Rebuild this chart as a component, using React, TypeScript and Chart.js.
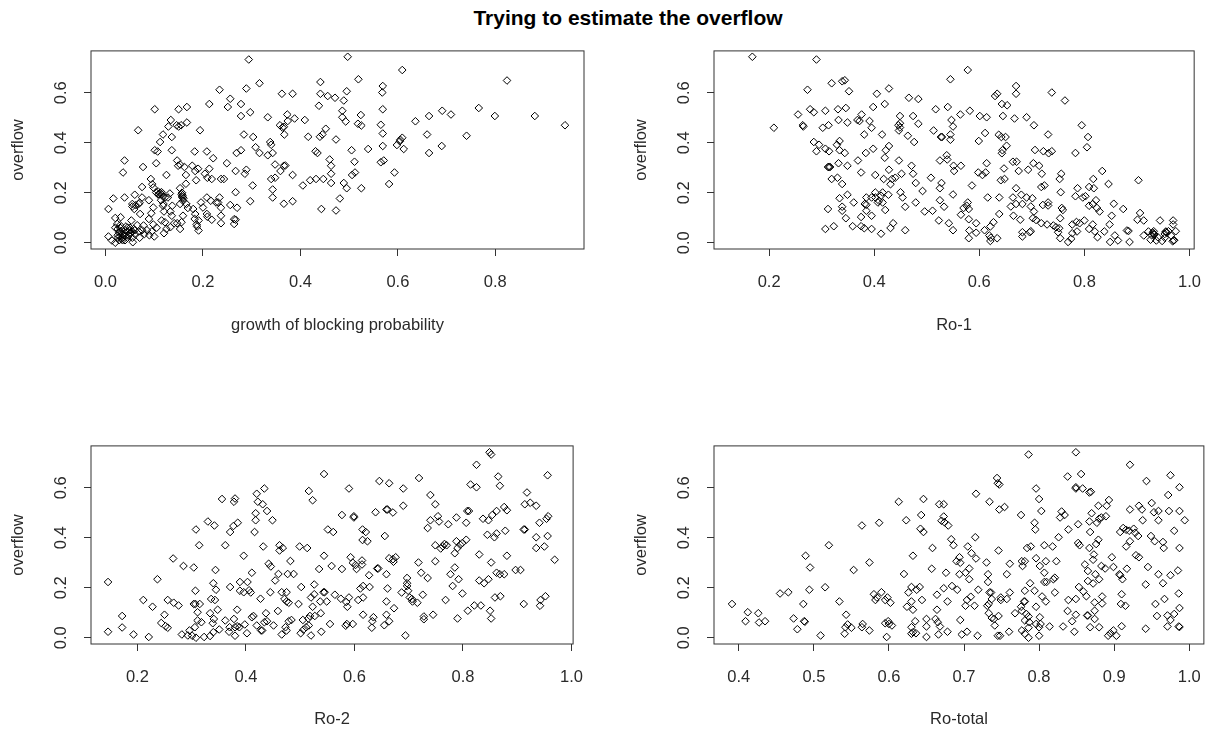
import React, { useEffect, useRef } from "react";
import { Chart, registerables } from "chart.js";

Chart.register(...registerables);

type Pt = [number, number];

const mainTitle = "Trying to estimate the overflow";
const yLabel = "overflow";
const overflowTicks = [0, 0.2, 0.4, 0.6];

const growthTicks = [0, 0.2, 0.4, 0.6, 0.8];
const ro1Ticks = [0.2, 0.4, 0.6, 0.8, 1.0];
const ro2Ticks = [0.2, 0.4, 0.6, 0.8, 1.0];
const roTotalTicks = [0.4, 0.5, 0.6, 0.7, 0.8, 0.9, 1.0];

const growthPoints: Pt[] = [
[.294,.733],[.497,.744],[.609,.691],[.519,.654],[.824,.649],[.316,.638],[.441,.643],[.234,.612],[.289,.617],[.362,.596],[.384,.596],[.441,.596],[.456,.587],[.471,.580],[.489,.569],[.495,.606],[.568,.601],[.569,.627],[.256,.576],[.251,.543],[.278,.555],[.213,.555],[.297,.522],[.278,.507],[.333,.502],[.373,.513],[.409,.491],[.388,.497],[.438,.548],[.486,.528],[.486,.502],[.493,.485],[.524,.511],[.569,.534],[.565,.472],[.518,.476],[.525,.469],[.636,.486],[.664,.507],[.691,.528],[.709,.513],[.766,.539],[.799,.507],[.881,.507],[.943,.470],[.741,.428],[.660,.433],[.690,.387],[.664,.359],[.612,.375],[.609,.420],[.605,.412],[.604,.406],[.598,.391],[.569,.437],[.569,.387],[.565,.322],[.571,.329],[.593,.281],[.582,.235],[.539,.375],[.505,.370],[.511,.324],[.512,.281],[.506,.271],[.525,.218],[.495,.218],[.489,.239],[.473,.413],[.452,.456],[.445,.433],[.440,.424],[.416,.424],[.358,.470],[.363,.461],[.366,.464],[.374,.487],[.367,.433],[.431,.366],[.435,.359],[.460,.333],[.463,.308],[.463,.276],[.463,.239],[.447,.255],[.432,.255],[.420,.250],[.405,.229],[.481,.177],[.443,.135],[.473,.129],[.384,.271],[.366,.308],[.369,.309],[.359,.287],[.348,.313],[.348,.260],[.340,.255],[.343,.213],[.343,.181],[.366,.156],[.384,.166],[.338,.403],[.340,.392],[.343,.359],[.333,.350],[.316,.359],[.308,.382],[.303,.423],[.284,.433],[.278,.370],[.269,.359],[.289,.292],[.286,.276],[.267,.287],[.302,.229],[.297,.166],[.267,.202],[.270,.140],[.256,.151],[.264,.094],[.267,.092],[.264,.075],[.237,.078],[.237,.108],[.237,.140],[.234,.181],[.231,.161],[.237,.255],[.243,.255],[.249,.318],[.221,.338],[.208,.365],[.183,.365],[.194,.450],[.167,.543],[.150,.534],[.101,.534],[.067,.450],[.134,.491],[.167,.481],[.129,.465],[.150,.465],[.146,.470],[.155,.470],[.118,.433],[.136,.423],[.112,.403],[.101,.370],[.107,.365],[.136,.370],[.039,.329],[.036,.281],[.077,.303],[.104,.318],[.125,.271],[.147,.329],[.153,.313],[.149,.308],[.162,.303],[.165,.271],[.165,.236],[.153,.218],[.178,.308],[.190,.296],[.184,.287],[.186,.250],[.204,.276],[.213,.296],[.209,.260],[.218,.255],[.093,.255],[.096,.234],[.098,.221],[.075,.223],[.104,.201],[.110,.194],[.115,.202],[.122,.181],[.132,.197],[.114,.170],[.128,.181],[.119,.155],[.118,.148],[.137,.148],[.120,.125],[.133,.125],[.136,.108],[.115,.089],[.122,.082],[.141,.078],[.147,.078],[.133,.062],[.153,.055],[.125,.055],[.120,.038],[.156,.194],[.158,.181],[.159,.168],[.153,.155],[.166,.155],[.169,.139],[.159,.108],[.156,.082],[.180,.135],[.184,.115],[.200,.141],[.183,.095],[.191,.089],[.196,.161],[.187,.073],[.188,.065],[.191,.049],[.208,.181],[.216,.168],[.227,.161],[.208,.115],[.209,.104],[.218,.092],[.016,.177],[.006,.135],[.039,.181],[.060,.192],[.075,.181],[.055,.155],[.059,.135],[.068,.155],[.089,.170],[.098,.141],[.094,.118],[.071,.115],[.089,.095],[.020,.099],[.031,.102],[.024,.075],[.053,.089],[.078,.069],[.098,.073],[.006,.025],[.013,.009],[.020,.0],[.056,.002],[.025,.055],[.028,.04],[.03,.025],[.033,.015],[.035,.05],[.038,.03],[.04,.01],[.042,.065],[.045,.045],[.048,.03],[.05,.06],[.052,.04],[.055,.02],[.058,.055],[.06,.035],[.065,.07],[.068,.045],[.07,.02],[.075,.05],[.08,.035],[.085,.05],[.09,.03],[.095,.045],[.10,.025],[.105,.06],[.02,.06],[.025,.03],[.03,.07],[.035,.01],[.04,.04],[.045,.02],[.05,.035],
[.108,.205],[.112,.2],[.108,.193],[.115,.193],[.118,.185],[.157,.2],[.158,.19],[.157,.185],[.16,.178],[.03,.06],[.035,.035],[.04,.05],[.045,.06],[.05,.05],[.03,.045],[.035,.02],[.04,.025],[.028,.01],[.025,.02],[.055,.045],[.06,.05],[.062,.15],[.055,.145],[.07,.16]
];

const ro1Points: Pt[] = [
[.168,.744],[.290,.733],[.578,.691],[.545,.654],[.670,.627],[.634,.596],[.630,.587],[.670,.596],[.738,.601],[.763,.569],[.273,.612],[.319,.638],[.339,.646],[.344,.650],[.352,.606],[.405,.596],[.428,.617],[.466,.580],[.484,.575],[.420,.555],[.398,.543],[.255,.513],[.278,.534],[.285,.522],[.307,.528],[.331,.534],[.346,.539],[.332,.491],[.349,.481],[.368,.491],[.372,.487],[.376,.513],[.391,.487],[.395,.460],[.209,.460],[.264,.470],[.265,.465],[.302,.460],[.313,.470],[.381,.433],[.415,.433],[.449,.507],[.449,.478],[.446,.470],[.449,.461],[.447,.449],[.474,.507],[.484,.476],[.464,.428],[.476,.403],[.517,.534],[.540,.543],[.564,.513],[.582,.528],[.601,.507],[.614,.502],[.547,.491],[.550,.465],[.513,.449],[.527,.423],[.529,.423],[.545,.433],[.545,.412],[.599,.407],[.611,.439],[.637,.432],[.642,.423],[.650,.423],[.643,.555],[.653,.550],[.645,.507],[.667,.497],[.690,.502],[.704,.470],[.731,.433],[.795,.470],[.807,.423],[.805,.382],[.783,.359],[.706,.371],[.722,.366],[.732,.358],[.738,.366],[.652,.388],[.644,.370],[.643,.358],[.285,.403],[.295,.392],[.290,.366],[.307,.376],[.314,.366],[.329,.392],[.334,.407],[.334,.370],[.344,.359],[.384,.359],[.398,.376],[.422,.370],[.428,.387],[.420,.340],[.369,.329],[.447,.329],[.332,.318],[.349,.308],[.312,.303],[.314,.303],[.316,.303],[.319,.255],[.330,.260],[.339,.235],[.375,.281],[.402,.271],[.418,.255],[.428,.292],[.431,.234],[.434,.255],[.440,.260],[.452,.276],[.471,.308],[.474,.276],[.479,.239],[.492,.207],[.508,.260],[.525,.329],[.528,.239],[.525,.218],[.538,.350],[.539,.333],[.551,.308],[.565,.308],[.552,.287],[.550,.193],[.586,.229],[.598,.281],[.606,.271],[.612,.281],[.614,.318],[.616,.181],[.638,.181],[.641,.250],[.648,.255],[.647,.297],[.664,.324],[.671,.324],[.675,.287],[.693,.292],[.703,.318],[.714,.308],[.719,.276],[.670,.218],[.718,.223],[.724,.229],[.756,.276],[.753,.255],[.755,.202],[.787,.218],[.783,.186],[.797,.181],[.802,.186],[.817,.255],[.809,.223],[.818,.218],[.834,.287],[.846,.235],[.903,.250],[.822,.170],[.809,.148],[.816,.155],[.824,.139],[.829,.125],[.856,.156],[.874,.135],[.906,.119],[.852,.108],[.901,.092],[.913,.089],[.944,.089],[.969,.089],[.969,.073],[.848,.073],[.838,.045],[.858,.029],[.825,.022],[.816,.073],[.809,.055],[.820,.045],[.800,.089],[.791,.078],[.785,.083],[.786,.045],[.777,.073],[.777,.038],[.775,.016],[.769,.003],[.849,.003],[.864,.009],[.886,.003],[.881,.049],[.884,.047],[.913,.029],[.922,.045],[.932,.046],[.933,.032],[.926,.012],[.937,.009],[.940,.022],[.948,.007],[.953,.02],[.955,.042],[.960,.046],[.974,.046],[.970,.009],[.965,.029],[.931,.038],[.334,.178],[.349,.192],[.312,.135],[.339,.144],[.339,.128],[.346,.098],[.307,.055],[.323,.066],[.359,.066],[.361,.161],[.375,.066],[.381,.058],[.375,.103],[.382,.155],[.385,.152],[.385,.181],[.395,.181],[.402,.201],[.385,.128],[.395,.108],[.395,.055],[.413,.036],[.431,.059],[.436,.078],[.459,.050],[.402,.181],[.409,.168],[.413,.188],[.416,.201],[.407,.161],[.416,.161],[.421,.131],[.427,.192],[.450,.202],[.454,.181],[.459,.144],[.479,.161],[.496,.125],[.511,.128],[.525,.170],[.533,.144],[.523,.089],[.542,.078],[.550,.050],[.565,.112],[.570,.139],[.576,.148],[.578,.161],[.580,.135],[.580,.094],[.581,.049],[.580,.018],[.594,.040],[.594,.078],[.610,.050],[.621,.065],[.627,.082],[.619,.029],[.622,.020],[.621,.007],[.634,.018],[.638,.115],[.660,.145],[.664,.181],[.670,.155],[.682,.155],[.680,.192],[.690,.181],[.701,.178],[.665,.108],[.678,.092],[.698,.145],[.704,.125],[.702,.098],[.708,.091],[.718,.078],[.729,.073],[.721,.151],[.731,.161],[.731,.149],[.682,.042],[.682,.025],[.696,.042],[.698,.046],[.741,.069],[.746,.062],[.752,.058],[.750,.042],[.754,.018],[.754,.098],[.757,.139],[.759,.131],
[.93,.04],[.933,.035],[.928,.03],[.955,.045],[.957,.04],[.953,.035],[.971,.01],[.968,.006]
];

const ro2Points: Pt[] = [
[.849,.742],[.852,.733],[.825,.692],[.956,.650],[.865,.645],[.719,.639],[.544,.655],[.646,.627],[.664,.618],[.814,.613],[.825,.602],[.868,.608],[.434,.597],[.590,.597],[.690,.597],[.516,.587],[.420,.576],[.740,.571],[.918,.581],[.356,.555],[.380,.557],[.378,.544],[.422,.544],[.431,.534],[.523,.550],[.749,.534],[.914,.534],[.924,.540],[.935,.528],[.690,.528],[.876,.523],[.881,.510],[.862,.507],[.439,.507],[.418,.498],[.577,.491],[.599,.486],[.599,.481],[.639,.502],[.659,.513],[.661,.513],[.671,.501],[.754,.486],[.788,.481],[.808,.507],[.811,.507],[.837,.476],[.847,.470],[.854,.491],[.957,.486],[.954,.476],[.941,.460],[.806,.460],[.740,.470],[.756,.465],[.773,.454],[.735,.439],[.418,.470],[.449,.470],[.330,.465],[.342,.449],[.385,.460],[.377,.447],[.371,.423],[.308,.433],[.416,.423],[.551,.433],[.561,.423],[.615,.433],[.621,.423],[.656,.407],[.878,.428],[.845,.412],[.858,.402],[.862,.417],[.912,.433],[.914,.433],[.935,.402],[.956,.407],[.615,.391],[.624,.386],[.806,.392],[.788,.386],[.799,.379],[.795,.372],[.749,.370],[.766,.375],[.763,.366],[.770,.370],[.759,.357],[.790,.359],[.785,.338],[.935,.359],[.950,.365],[.314,.370],[.362,.370],[.432,.365],[.462,.370],[.468,.359],[.462,.349],[.499,.365],[.513,.359],[.396,.328],[.544,.328],[.593,.322],[.664,.318],[.671,.314],[.676,.322],[.672,.304],[.830,.333],[.881,.328],[.969,.312],[.266,.317],[.285,.287],[.304,.281],[.344,.271],[.482,.307],[.442,.296],[.446,.285],[.597,.300],[.602,.291],[.614,.309],[.614,.293],[.604,.275],[.642,.277],[.644,.277],[.718,.301],[.749,.306],[.852,.301],[.535,.275],[.558,.287],[.577,.275],[.785,.281],[.897,.271],[.906,.271],[.237,.234],[.411,.260],[.460,.255],[.477,.255],[.488,.255],[.627,.250],[.659,.254],[.723,.260],[.735,.239],[.697,.239],[.777,.254],[.792,.234],[.830,.229],[.847,.234],[.839,.218],[.862,.260],[.868,.254],[.876,.254],[.146,.223],[.340,.218],[.454,.229],[.389,.223],[.403,.223],[.371,.203],[.502,.203],[.526,.213],[.697,.218],[.697,.207],[.628,.203],[.611,.197],[.616,.207],[.661,.197],[.781,.207],[.799,.177],[.307,.188],[.345,.192],[.336,.155],[.343,.151],[.389,.188],[.396,.182],[.406,.190],[.409,.181],[.445,.182],[.466,.182],[.475,.182],[.543,.182],[.545,.182],[.564,.172],[.526,.174],[.520,.161],[.687,.181],[.699,.188],[.702,.161],[.726,.172],[.211,.151],[.228,.124],[.256,.151],[.267,.140],[.276,.129],[.250,.092],[.172,.087],[.427,.156],[.471,.155],[.475,.145],[.479,.140],[.497,.135],[.537,.145],[.549,.145],[.575,.156],[.590,.161],[.587,.124],[.585,.143],[.607,.151],[.616,.161],[.659,.145],[.706,.155],[.707,.145],[.716,.140],[.768,.151],[.859,.161],[.869,.166],[.952,.166],[.943,.151],[.942,.128],[.912,.135],[.833,.129],[.821,.129],[.809,.108],[.850,.108],[.852,.077],[.790,.077],[.745,.092],[.673,.118],[.659,.092],[.664,.066],[.655,.050],[.635,.082],[.633,.066],[.632,.040],[.694,.009],[.728,.085],[.728,.074],[.616,.092],[.597,.055],[.586,.055],[.584,.048],[.555,.055],[.539,.024],[.538,.098],[.527,.087],[.523,.124],[.518,.087],[.515,.077],[.516,.049],[.511,.042],[.505,.071],[.506,.032],[.501,.018],[.520,.009],[.484,.071],[.479,.066],[.473,.042],[.475,.029],[.466,.013],[.459,.107],[.451,.049],[.439,.066],[.437,.098],[.434,.062],[.430,.029],[.428,.029],[.420,.049],[.414,.087],[.411,.082],[.402,.018],[.398,.053],[.384,.112],[.378,.075],[.388,.042],[.380,.042],[.384,.046],[.370,.042],[.369,.024],[.380,.008],[.362,.069],[.351,.033],[.348,.112],[.341,.075],[.339,.058],[.334,.098],[.340,.022],[.334,.007],[.323,.003],[.308,.0],[.301,.008],[.293,.009],[.282,.013],[.296,.029],[.306,.042],[.318,.062],[.311,.069],[.311,.102],[.315,.135],[.307,.135],[.304,.135],[.256,.040],[.252,.046],[.244,.059],[.193,.013],[.221,.003],[.172,.041],[.146,.024]
];

const roTotalPoints: Pt[] = [
[.849,.742],[.786,.733],[.921,.692],[.975,.650],[.856,.655],[.838,.645],[.744,.639],[.943,.627],[.745,.618],[.747,.613],[.796,.597],[.849,.602],[.849,.597],[.858,.597],[.869,.584],[.867,.581],[.987,.602],[.716,.576],[.972,.571],[.646,.555],[.800,.555],[.613,.544],[.667,.534],[.673,.534],[.734,.544],[.893,.551],[.950,.539],[.933,.528],[.890,.528],[.879,.528],[.754,.523],[.747,.513],[.803,.507],[.828,.481],[.830,.505],[.834,.491],[.776,.491],[.643,.491],[.870,.498],[.889,.486],[.883,.481],[.880,.476],[.921,.513],[.937,.513],[.953,.502],[.959,.507],[.973,.507],[.987,.507],[.959,.470],[.938,.470],[.994,.470],[.673,.485],[.670,.468],[.674,.462],[.679,.449],[.623,.470],[.587,.460],[.564,.449],[.794,.460],[.795,.433],[.852,.454],[.867,.465],[.877,.460],[.868,.423],[.980,.428],[.839,.433],[.642,.436],[.646,.423],[.908,.423],[.912,.439],[.916,.432],[.920,.428],[.926,.436],[.928,.420],[.932,.407],[.921,.386],[.826,.402],[.715,.402],[.949,.407],[.683,.394],[.954,.386],[.965,.383],[.879,.392],[.876,.375],[.520,.370],[.686,.370],[.705,.365],[.658,.359],[.746,.349],[.784,.359],[.789,.365],[.807,.370],[.818,.365],[.852,.379],[.854,.370],[.867,.359],[.916,.365],[.966,.359],[.987,.359],[.489,.328],[.632,.328],[.710,.338],[.716,.317],[.694,.322],[.690,.306],[.695,.300],[.777,.306],[.781,.306],[.796,.318],[.809,.306],[.823,.306],[.730,.301],[.761,.296],[.778,.287],[.801,.287],[.873,.333],[.872,.312],[.861,.293],[.929,.330],[.933,.322],[.897,.322],[.945,.283],[.495,.281],[.553,.271],[.574,.301],[.657,.276],[.707,.277],[.620,.255],[.676,.260],[.694,.254],[.702,.260],[.707,.234],[.732,.254],[.732,.223],[.757,.254],[.807,.260],[.821,.240],[.819,.234],[.807,.223],[.810,.223],[.865,.267],[.875,.254],[.865,.227],[.880,.234],[.872,.217],[.883,.287],[.888,.277],[.899,.283],[.907,.254],[.908,.250],[.911,.234],[.917,.276],[.959,.254],[.975,.250],[.985,.269],[.965,.218],[.942,.213],[.853,.203],[.859,.185],[.863,.166],[.494,.192],[.515,.202],[.455,.177],[.466,.182],[.486,.135],[.534,.145],[.543,.092],[.580,.174],[.590,.182],[.582,.151],[.584,.161],[.598,.161],[.595,.151],[.602,.140],[.630,.203],[.641,.203],[.637,.192],[.626,.181],[.644,.151],[.630,.145],[.624,.124],[.632,.112],[.664,.172],[.673,.198],[.684,.207],[.691,.192],[.678,.145],[.664,.112],[.709,.164],[.704,.151],[.702,.128],[.714,.128],[.719,.192],[.734,.181],[.736,.181],[.749,.161],[.749,.151],[.757,.155],[.761,.181],[.731,.128],[.733,.135],[.737,.155],[.781,.145],[.780,.145],[.781,.188],[.794,.188],[.788,.218],[.796,.124],[.804,.165],[.809,.145],[.821,.181],[.839,.151],[.849,.155],[.874,.141],[.884,.165],[.884,.137],[.874,.108],[.865,.089],[.849,.092],[.838,.107],[.844,.066],[.832,.045],[.847,.024],[.868,.042],[.880,.042],[.874,.075],[.864,.089],[.910,.174],[.909,.135],[.915,.128],[.955,.135],[.967,.155],[.986,.177],[.987,.119],[.980,.095],[.957,.087],[.971,.089],[.975,.071],[.971,.045],[.986,.045],[.987,.043],[.942,.036],[.910,.046],[.899,.029],[.895,.018],[.892,.008],[.903,.008],[.391,.135],[.412,.102],[.426,.098],[.409,.066],[.427,.061],[.435,.066],[.473,.077],[.487,.066],[.488,.064],[.478,.034],[.509,.009],[.542,.042],[.545,.053],[.541,.016],[.550,.040],[.565,.055],[.564,.042],[.574,.029],[.595,.058],[.599,.066],[.600,.055],[.604,.049],[.597,.003],[.630,.042],[.632,.022],[.630,.016],[.636,.018],[.635,.066],[.650,.075],[.650,.045],[.650,.003],[.662,.075],[.665,.062],[.668,.045],[.666,.013],[.678,.024],[.695,.071],[.697,.013],[.704,.024],[.718,.008],[.733,.098],[.737,.079],[.740,.075],[.746,.087],[.741,.049],[.745,.008],[.748,.008],[.760,.024],[.768,.098],[.776,.124],[.777,.108],[.783,.095],[.786,.085],[.781,.069],[.787,.062],[.777,.029],[.781,.016],[.786,.040],[.786,.0],[.796,.055],[.801,.082],[.802,.055],[.800,.042],[.800,.008],[.814,.045]
];

const boxPlugin = {
  id: "box",
  beforeDatasetsDraw(chart: any) {
    const { ctx, chartArea: a } = chart;
    ctx.save();
    ctx.strokeStyle = "#333";
    ctx.lineWidth = 1;
    ctx.strokeRect(a.left, a.top, a.right - a.left, a.bottom - a.top);
    ctx.restore();
  },
};

const FONT = "'Liberation Sans', Arial, sans-serif";
const INK = "#2a2a2a";
const LABEL_SIZE = 16.5;

function Panel(props: {
  points: Pt[]; xTicks: number[]; xTitle: string;
  xMin: number; xMax: number; yMin: number; yMax: number;
  left: number; top: number; width: number; height: number;
  yAxisW: number; xAxisH: number; rightPad: number; topPad: number; titleBottom: number;
}) {
  const ref = useRef<HTMLCanvasElement>(null);
  useEffect(() => {
    const chart = new Chart(ref.current as HTMLCanvasElement, {
      type: "scatter",
      data: {
        datasets: [{
          data: props.points.map(([x, y]) => ({ x, y })),
          pointStyle: "rectRot",
          pointRadius: 3.8,
          pointBackgroundColor: "rgba(0,0,0,0)",
          pointBorderColor: "#000",
          pointBorderWidth: 1,
        }],
      },
      options: {
        animation: false,
        responsive: false,
        layout: { padding: { left: 0, top: props.topPad, right: props.rightPad, bottom: 0 } },
        plugins: { legend: { display: false }, tooltip: { enabled: false } },
        scales: {
          x: {
            type: "linear",
            min: props.xMin,
            max: props.xMax,
            border: { display: false },
            grid: { drawOnChartArea: false, drawTicks: true, tickLength: 7, tickColor: "#333", tickWidth: 1 },
            ticks: {
              autoSkip: false, maxRotation: 0, minRotation: 0, padding: 17,
              color: INK, font: { family: FONT, size: LABEL_SIZE },
              callback: (v: any) => Number(v).toFixed(1),
            },
            title: {
              display: true, text: props.xTitle, color: INK,
              font: { family: FONT, size: LABEL_SIZE },
              padding: { top: 0, bottom: props.titleBottom },
            },
            afterBuildTicks: (s: any) => { s.ticks = props.xTicks.map((value) => ({ value })); },
            afterFit: (s: any) => { s.height = props.xAxisH; },
          },
          y: {
            type: "linear",
            min: props.yMin,
            max: props.yMax,
            border: { display: false },
            grid: { drawOnChartArea: false, drawTicks: true, tickLength: 7, tickColor: "#333", tickWidth: 1 },
            ticks: {
              autoSkip: false, maxRotation: 90, minRotation: 90, padding: 11, crossAlign: "center",
              color: INK, font: { family: FONT, size: LABEL_SIZE },
              callback: (v: any) => Number(v).toFixed(1),
            },
            title: {
              display: true, text: yLabel, color: INK,
              font: { family: FONT, size: LABEL_SIZE },
              padding: { top: 9, bottom: 0 },
            },
            afterBuildTicks: (s: any) => { s.ticks = overflowTicks.map((value) => ({ value })); },
            afterFit: (s: any) => { s.width = props.yAxisW; },
          },
        },
      },
      plugins: [boxPlugin],
    } as any);
    return () => chart.destroy();
  }, []);
  return (
    <canvas
      ref={ref}
      width={props.width}
      height={props.height}
      style={{ position: "absolute", left: props.left, top: props.top, width: props.width, height: props.height }}
    />
  );
}

export default function App() {
  const Y = { yMin: -0.0251, yMax: 0.7675 };
  return (
    <div style={{ position: "absolute", left: 0, top: 0, width: 1218, height: 732, overflow: "hidden", background: "#fff" }}>
      <div style={{ position: "absolute", left: 0, top: 8, width: 1256, textAlign: "center", fontFamily: FONT, fontWeight: "bold", fontSize: 21, lineHeight: "20px", color: "#000" }}>
        {mainTitle}
      </div>
      <Panel points={growthPoints} xTicks={growthTicks} xTitle="growth of blocking probability"
        xMin={-0.0298} xMax={0.982} {...Y}
        left={0} top={30} width={600} height={315} yAxisW={91} xAxisH={96} rightPad={16} topPad={19} titleBottom={10} />
      <Panel points={ro1Points} xTicks={ro1Ticks} xTitle="Ro-1"
        xMin={0.095} xMax={1.009} {...Y}
        left={623} top={30} width={595} height={315} yAxisW={91} xAxisH={96} rightPad={10} topPad={19} titleBottom={10} />
      <Panel points={ro2Points} xTicks={ro2Ticks} xTitle="Ro-2"
        xMin={0.1146} xMax={1.003} {...Y}
        left={0} top={425} width={600} height={307} yAxisW={91} xAxisH={88} rightPad={16} topPad={19} titleBottom={3} />
      <Panel points={roTotalPoints} xTicks={roTotalTicks} xTitle="Ro-total"
        xMin={0.367} xMax={1.0195} {...Y}
        left={623} top={425} width={595} height={307} yAxisW={91} xAxisH={88} rightPad={10} topPad={19} titleBottom={3} />
    </div>
  );
}
